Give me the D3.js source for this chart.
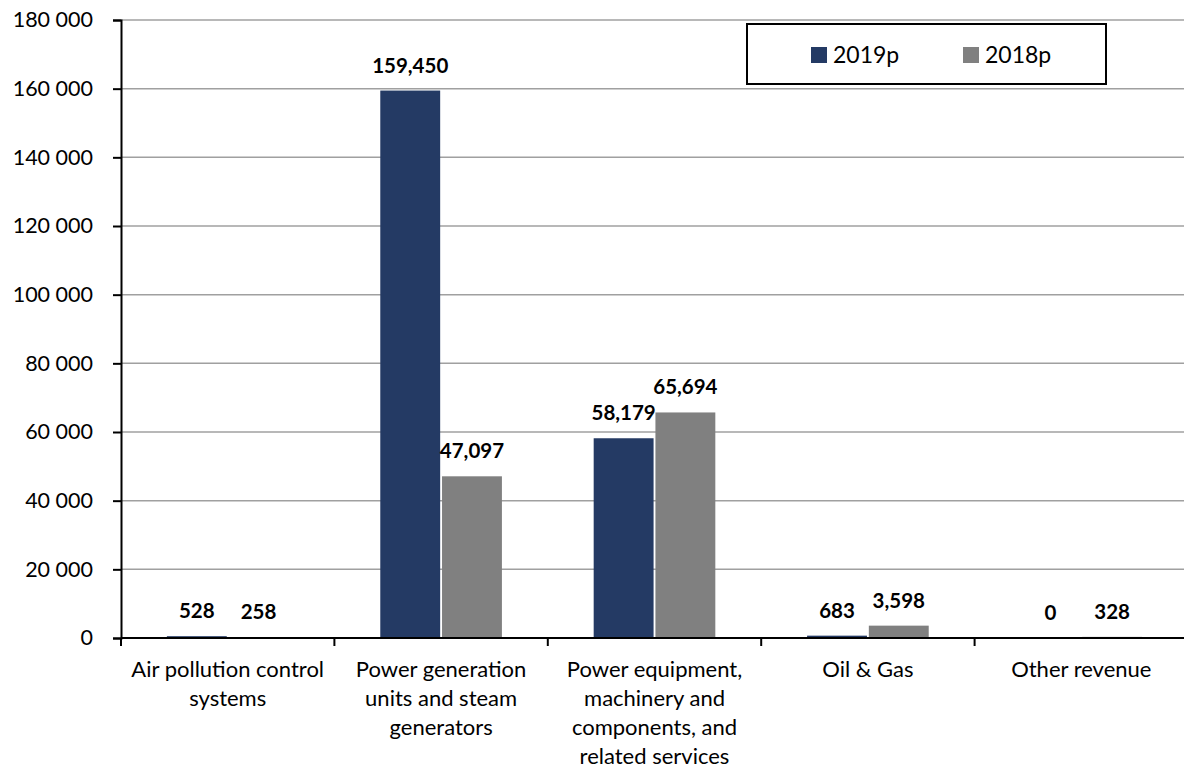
<!DOCTYPE html>
<html>
<head>
<meta charset="utf-8">
<script src="https://cdn.jsdelivr.net/npm/d3@7"></script>
<style>
  body { margin: 0; background: #fff; }
  svg { display: block; font-family: Lato, "Open Sans", sans-serif; }
</style>
</head>
<body>
<div id="chart"></div>
<script>
var categories = ["Air pollution control systems", "Power generation units and steam generators",
                  "Power equipment, machinery and components, and related services", "Oil & Gas", "Other revenue"];
var categoryLines = [["Air pollution control", "systems"],
                     ["Power generation", "units and steam", "generators"],
                     ["Power equipment,", "machinery and", "components, and", "related services"],
                     ["Oil & Gas"],
                     ["Other revenue"]];
var seriesNames = ["2019p", "2018p"];
var values2019 = [528, 159450, 58179, 683, 0];
var values2018 = [258, 47097, 65694, 3598, 328];
var yTicks = [0, 20000, 40000, 60000, 80000, 100000, 120000, 140000, 160000, 180000];
var colors = ["#243a64", "#808080"];

var W = 1184, H = 769;
var margin = {top: 20, right: -4, bottom: 131, left: 121};
var width = W - margin.left - margin.right;
var height = H - margin.top - margin.bottom;

var svg = d3.select("#chart").append("svg")
    .attr("width", W)
    .attr("height", H);
var g = svg.append("g")
    .attr("transform", "translate(" + margin.left + "," + margin.top + ")");

var x = d3.scaleBand().domain(categories).range([0, width]);
var xInner = d3.scaleBand().domain(seriesNames)
    .range([x.bandwidth() * 0.215, x.bandwidth() * 0.785]).paddingInner(0.03);
var y = d3.scaleLinear().domain([0, 180000]).range([height, 0]);

// gridlines
g.selectAll("line.grid")
    .data(yTicks.filter(function(d) { return d > 0; }))
    .enter().append("line")
    .attr("class", "grid")
    .attr("x1", 0).attr("x2", width)
    .attr("y1", function(d) { return y(d); })
    .attr("y2", function(d) { return y(d); })
    .attr("stroke", "#a0a0a0")
    .attr("stroke-width", 1.5);

// bars
var rows = categories.map(function(c, i) {
    return {cat: c, vals: [values2019[i], values2018[i]]};
});
var groups = g.selectAll("g.cat").data(rows).enter().append("g")
    .attr("class", "cat")
    .attr("transform", function(d) { return "translate(" + x(d.cat) + ",0)"; });

groups.selectAll("rect")
    .data(function(d) { return d.vals.map(function(v, j) { return {s: seriesNames[j], v: v, j: j}; }); })
    .enter().append("rect")
    .attr("x", function(d) { return xInner(d.s); })
    .attr("width", xInner.bandwidth())
    .attr("y", function(d) { return y(d.v); })
    .attr("height", function(d) { return height - y(d.v); })
    .attr("fill", function(d) { return colors[d.j]; });

groups.selectAll("text.val")
    .data(function(d) { return d.vals.map(function(v, j) { return {s: seriesNames[j], v: v}; }); })
    .enter().append("text")
    .attr("class", "val")
    .attr("x", function(d) { return xInner(d.s) + xInner.bandwidth() / 2; })
    .attr("y", function(d) { return y(d.v) - 18; })
    .attr("text-anchor", "middle")
    .attr("font-weight", "bold")
    .attr("font-size", 20.5)
    .text(function(d) { return d3.format(",")(d.v); });

// y axis
var yAxis = g.append("g")
    .call(d3.axisLeft(y).tickValues(yTicks).tickSize(8).tickPadding(20)
        .tickFormat(function(d) { return d3.format(",")(d).replace(/,/g, " "); }));
yAxis.select(".domain").attr("stroke", "#000").attr("stroke-width", 2);
yAxis.selectAll(".tick line").attr("stroke", "#000").attr("stroke-width", 2);
yAxis.selectAll(".tick text").attr("font-size", 21.5).attr("fill", "#000")
    .style("font-family", "Lato, sans-serif");

// x axis baseline and ticks
var xAxis = g.append("g").attr("transform", "translate(0," + height + ")");
xAxis.append("line")
    .attr("x1", 0).attr("x2", width)
    .attr("stroke", "#000").attr("stroke-width", 2);
xAxis.selectAll("line.xt")
    .data(categories.concat(["end"]))
    .enter().append("line")
    .attr("class", "xt")
    .attr("x1", function(d, i) { return i * x.step(); })
    .attr("x2", function(d, i) { return i * x.step(); })
    .attr("y1", 0).attr("y2", 8)
    .attr("stroke", "#000").attr("stroke-width", 2);

var labels = xAxis.selectAll("text.cl")
    .data(categories)
    .enter().append("text")
    .attr("class", "cl")
    .attr("text-anchor", "middle")
    .attr("font-size", 22)
    .attr("transform", function(d) { return "translate(" + (x(d) + x.bandwidth() / 2) + ",39)"; });
labels.selectAll("tspan")
    .data(function(d, i) { return categoryLines[i]; })
    .enter().append("tspan")
    .attr("x", 0)
    .attr("dy", function(d, i) { return i === 0 ? 0 : 29; })
    .text(function(d) { return d; });

// legend
var legend = svg.append("g").attr("transform", "translate(747,24)");
legend.append("rect")
    .attr("width", 359).attr("height", 60)
    .attr("fill", "#fff").attr("stroke", "#000").attr("stroke-width", 2);
var items = legend.selectAll("g.item").data(seriesNames).enter().append("g")
    .attr("transform", function(d, i) { return "translate(" + (64 + i * 152) + ",23)"; });
items.append("rect")
    .attr("width", 16).attr("height", 16)
    .attr("fill", function(d, i) { return colors[i]; });
items.append("text")
    .attr("x", 22).attr("y", 16)
    .attr("font-size", 23)
    .text(function(d) { return d; });
</script>
</body>
</html>
